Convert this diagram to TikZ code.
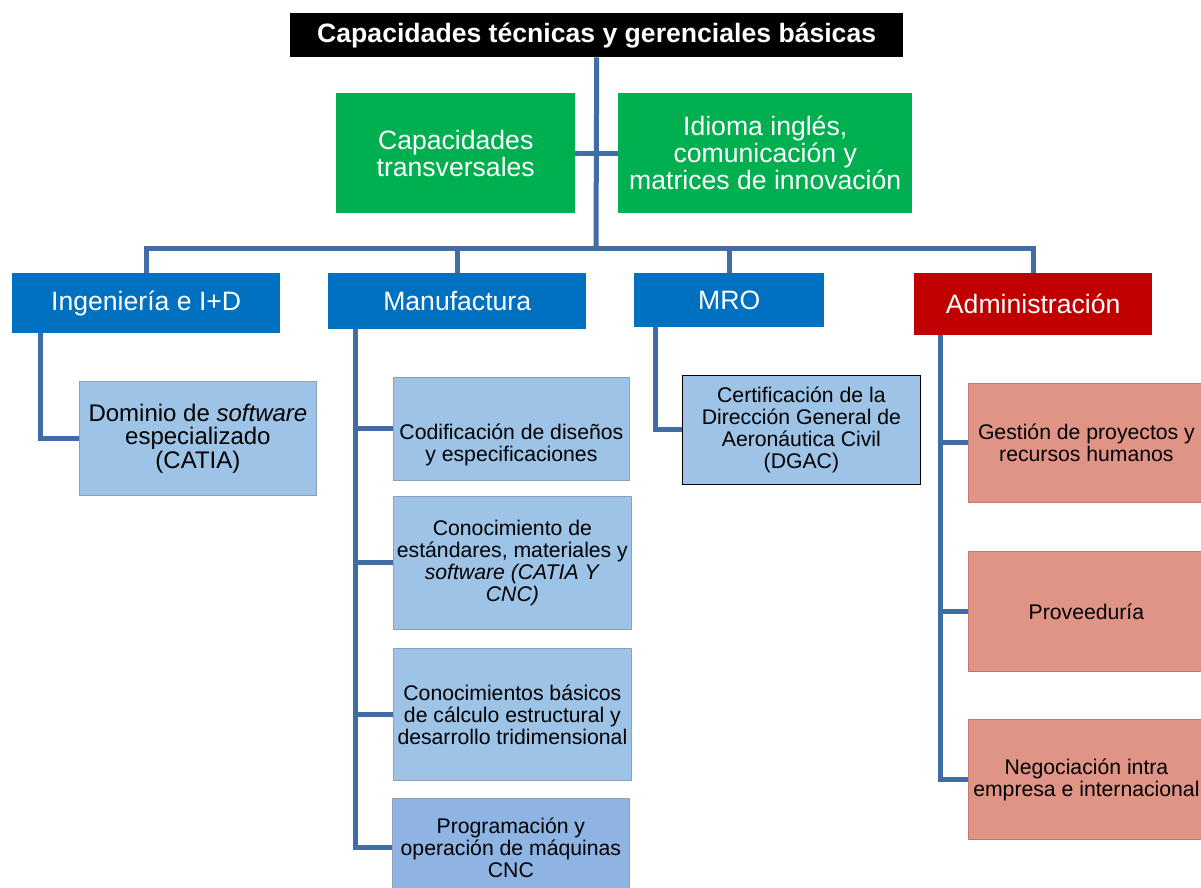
\documentclass[tikz,border=0pt]{standalone}
\usepackage{fontspec}
\setmainfont{Liberation Sans}
\definecolor{linkc}{RGB}{66,108,165}
\definecolor{greenc}{RGB}{0,176,80}
\definecolor{bluec}{RGB}{0,112,192}
\definecolor{redc}{RGB}{192,0,0}
\definecolor{lightc}{RGB}{157,195,230}
\definecolor{lightd}{RGB}{142,180,227}
\definecolor{lightb}{RGB}{140,160,185}
\definecolor{salmonc}{RGB}{224,148,134}
\definecolor{salmonb}{RGB}{195,120,108}
\begin{document}
\begin{tikzpicture}[x=1pt,y=-1pt,
  box/.style={anchor=north west,inner sep=2pt,align=center,rectangle},
  bigtxt/.style={font=\fontsize{26.6}{27}\selectfont,text=white},
  smalltxt/.style={font=\fontsize{21.2}{22}\selectfont,text=black},
  titlebox/.style={box,fill=black,font=\bfseries\fontsize{26.6}{27}\selectfont,text=white},
  greenbox/.style={box,bigtxt,fill=greenc},
  bluebox/.style={box,bigtxt,fill=bluec},
  redbox/.style={box,bigtxt,fill=redc},
  lightbox/.style={box,smalltxt,fill=lightc,draw=lightb,line width=0.8pt},
  salmonbox/.style={box,smalltxt,fill=salmonc,draw=salmonb,line width=0.8pt},
  link/.style={draw=linkc,line width=5pt},
]
\useasboundingbox (0,0) rectangle (1201,888);
\fill[white] (0,0) rectangle (1201,888);

% nodes
\node[titlebox,minimum width=613pt,minimum height=44pt] (top) at (290,13) {Capacidades técnicas y gerenciales básicas};
\node[greenbox,minimum width=239pt,minimum height=120pt] (g1) at (336,93) {Capacidades\\transversales};
\node[greenbox,minimum width=294pt,minimum height=120pt] (g2) at (618,93) {Idioma inglés,\\comunicación y\\matrices de innovación};

\node[bluebox,minimum width=268pt,minimum height=60pt] (ing) at (12,273) {Ingeniería e I+D};
\node[bluebox,minimum width=258pt,minimum height=56pt] (man) at (328,273) {Manufactura};
\node[bluebox,minimum width=190pt,minimum height=54pt] (mro) at (634,273) {MRO};
\node[redbox,minimum width=238pt,minimum height=62pt] (adm) at (914,273) {Administración};

\node[lightbox,font=\fontsize{24}{23.5}\selectfont,minimum width=237pt,minimum height=114pt] (dom) at (79,381) {Dominio de \textit{software}\\especializado\\(CATIA)};

\node[lightbox,minimum width=236pt,minimum height=103pt] (c1) at (393,377) {\mbox{}\\[26pt]Codificación de diseños\\y especificaciones};
\node[lightbox,minimum width=238pt,minimum height=133pt] (c2) at (393,496) {Conocimiento de\\estándares, materiales y\\\textit{software (CATIA Y}\\\textit{CNC)}};
\node[lightbox,minimum width=238pt,minimum height=132pt] (c3) at (393,648) {Conocimientos básicos\\de cálculo estructural y\\desarrollo tridimensional};
\node[lightbox,fill=lightd,minimum width=237pt,minimum height=98pt] (c4) at (392,798) {Programación y\\operación de máquinas\\CNC};

\node[lightbox,draw=black,minimum width=238pt,minimum height=109pt] (dgac) at (682,375) {Certificación de la\\Dirección General de\\Aeronáutica Civil\\(DGAC)};

\node[salmonbox,minimum width=236pt,minimum height=119pt] (a1) at (968,383) {Gestión de proyectos y\\recursos humanos};
\node[salmonbox,minimum width=236pt,minimum height=120pt] (a2) at (968,551) {Proveeduría};
\node[salmonbox,minimum width=236pt,minimum height=120pt] (a3) at (968,719) {Negociación intra\\empresa e internacional};

% connectors
\coordinate (bus) at (596,248);
\draw[link] (top.south) -- (bus);
\draw[link] (g1.east) -- (g2.west);
\draw[link] (ing.north) |- (bus);
\draw[link] (adm.north) |- (bus);
\draw[link] (man.north) -- (man.north |- bus);
\draw[link] (mro.north) -- (mro.north |- bus);

\draw[link] ([xshift=28pt]ing.south west) |- (dom.west);

\draw[link] ([xshift=27pt]man.south west) |- (c1.west);
\draw[link] ([xshift=27pt]man.south west) |- (c2.west);
\draw[link] ([xshift=27pt]man.south west) |- (c3.west);
\draw[link] ([xshift=27pt]man.south west) |- (c4.west);

\draw[link] ([xshift=21pt]mro.south west) |- (dgac.west);

\draw[link] ([xshift=26pt]adm.south west) |- (a1.west);
\draw[link] ([xshift=26pt]adm.south west) |- (a2.west);
\draw[link] ([xshift=26pt]adm.south west) |- (a3.west);
\end{tikzpicture}
\end{document}
